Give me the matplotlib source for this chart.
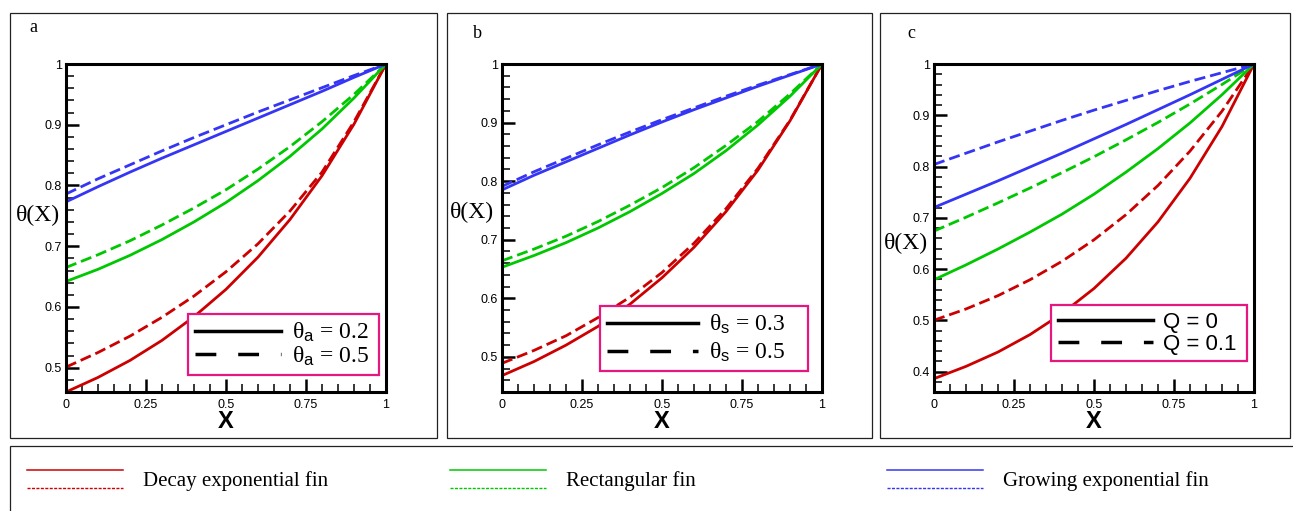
import matplotlib
matplotlib.use("Agg")
import matplotlib.pyplot as plt
from matplotlib.lines import Line2D
from matplotlib.patches import Rectangle
from matplotlib.legend_handler import HandlerBase
from matplotlib.ticker import MultipleLocator, FuncFormatter

# dimensionless position along the fin
x_pos = [0.0, 0.1, 0.2, 0.3, 0.4, 0.5, 0.6, 0.7, 0.8, 0.9, 1.0]

# panel a: theta_a = 0.2 (solid) / 0.5 (dashed)
a_decay_solid = [0.460, 0.484, 0.512, 0.545, 0.584, 0.629, 0.682, 0.744, 0.816, 0.901, 1.0]
a_decay_dash = [0.501, 0.525, 0.552, 0.583, 0.618, 0.658, 0.704, 0.758, 0.822, 0.905, 1.0]
a_rect_solid = [0.642, 0.662, 0.685, 0.711, 0.740, 0.772, 0.808, 0.848, 0.893, 0.944, 1.0]
a_rect_dash = [0.665, 0.686, 0.709, 0.735, 0.763, 0.793, 0.827, 0.864, 0.905, 0.950, 1.0]
a_grow_solid = [0.773, 0.798, 0.822, 0.845, 0.867, 0.889, 0.911, 0.933, 0.955, 0.978, 1.0]
a_grow_dash = [0.786, 0.811, 0.834, 0.857, 0.879, 0.900, 0.921, 0.941, 0.961, 0.981, 1.0]

# panel b: theta_s = 0.3 (solid) / 0.5 (dashed)
b_decay_solid = [0.468, 0.492, 0.520, 0.552, 0.590, 0.635, 0.687, 0.748, 0.819, 0.903, 1.0]
b_decay_dash = [0.489, 0.511, 0.536, 0.567, 0.602, 0.644, 0.694, 0.753, 0.822, 0.904, 1.0]
b_rect_solid = [0.653, 0.673, 0.695, 0.720, 0.748, 0.779, 0.813, 0.852, 0.896, 0.945, 1.0]
b_rect_dash = [0.664, 0.684, 0.706, 0.731, 0.759, 0.789, 0.823, 0.861, 0.902, 0.949, 1.0]
b_grow_solid = [0.785, 0.810, 0.833, 0.856, 0.879, 0.901, 0.922, 0.942, 0.962, 0.981, 1.0]
b_grow_dash = [0.791, 0.816, 0.839, 0.862, 0.884, 0.905, 0.925, 0.945, 0.964, 0.982, 1.0]

# panel c: Q = 0 (solid) / 0.1 (dashed)
c_decay_solid = [0.386, 0.410, 0.438, 0.472, 0.513, 0.562, 0.621, 0.692, 0.777, 0.878, 1.0]
c_decay_dash = [0.500, 0.522, 0.548, 0.579, 0.615, 0.657, 0.706, 0.763, 0.830, 0.908, 1.0]
c_rect_solid = [0.579, 0.608, 0.639, 0.672, 0.707, 0.746, 0.789, 0.835, 0.885, 0.940, 1.0]
c_rect_dash = [0.674, 0.701, 0.729, 0.758, 0.788, 0.819, 0.852, 0.886, 0.922, 0.960, 1.0]
c_grow_solid = [0.720, 0.746, 0.772, 0.799, 0.826, 0.854, 0.882, 0.911, 0.940, 0.970, 1.0]
c_grow_dash = [0.804, 0.826, 0.848, 0.869, 0.890, 0.910, 0.929, 0.948, 0.966, 0.983, 1.0]

fin_names = ["Decay exponential fin", "Rectangular fin", "Growing exponential fin"]
fin_colors = ["#cc0000", "#00c800", "#3535f5"]
x_ticks = [0, 0.25, 0.5, 0.75, 1]

panels = [
    dict(tag="a", left=66, ylim=(0.46, 1.0),
         curves=[(a_decay_solid, a_decay_dash), (a_rect_solid, a_rect_dash), (a_grow_solid, a_grow_dash)],
         labels=[r"θ$_{\mathsf{a}}$ = 0.2", r"θ$_{\mathsf{a}}$ = 0.5"],
         leg=(188, 314, 379), hlen=3.65, lspace=0.0, ylab=(38, 215), tagpos=(33, 28)),
    dict(tag="b", left=502, ylim=(0.44, 1.0),
         curves=[(b_decay_solid, b_decay_dash), (b_rect_solid, b_rect_dash), (b_grow_solid, b_grow_dash)],
         labels=[r"θ$_{\mathsf{s}}$ = 0.3", r"θ$_{\mathsf{s}}$ = 0.5"],
         leg=(600, 306, 808), hlen=3.85, lspace=0.2, ylab=(472, 212), tagpos=(477, 33)),
    dict(tag="c", left=934, ylim=(0.36, 1.0),
         curves=[(c_decay_solid, c_decay_dash), (c_rect_solid, c_rect_dash), (c_grow_solid, c_grow_dash)],
         labels=["Q = 0", "Q = 0.1"],
         leg=(1051, 305, 1247), hlen=4.3, lspace=0.05, ylab=(906, 243), tagpos=(911, 33)),
]

W, H = 1293, 511
plt.rcParams["mathtext.fontset"] = "custom"
plt.rcParams["mathtext.rm"] = "Liberation Serif"
plt.rcParams["mathtext.it"] = "Liberation Serif:italic"
plt.rcParams["mathtext.sf"] = "Liberation Sans"
fig = plt.figure(figsize=(W / 100, H / 100), dpi=100)

serif = ["Liberation Serif", "DejaVu Serif"]
sans = ["Liberation Sans", "DejaVu Sans"]

# outer frames around each panel and the shared legend
for x0, y0, x1, y1 in [(10, 13, 437, 438), (447, 13, 872, 438), (880, 13, 1290, 438), (10, 446, 1310, 530)]:
    fig.add_artist(Rectangle((x0 / W, 1 - y1 / H), (x1 - x0) / W, (y1 - y0) / H,
                             transform=fig.transFigure, fill=False, ec="#222222", lw=0.9))

ax_top, ax_bot, ax_w = 64, 392, 320
fmt = FuncFormatter(lambda v, p: f"{v:g}")

for p in panels:
    ax = fig.add_axes([p["left"] / W, 1 - ax_bot / H, ax_w / W, (ax_bot - ax_top) / H])
    for (solid, dash), col in zip(p["curves"], fin_colors):
        ax.plot(x_pos, solid, color=col, lw=2.0)
        ax.plot(x_pos, dash, color=col, lw=2.0, dashes=(4, 1.8))
    ax.set_xlim(0, 1)
    ax.set_ylim(*p["ylim"])
    ax.set_xticks(x_ticks)
    ax.xaxis.set_minor_locator(MultipleLocator(0.05))
    ax.yaxis.set_major_locator(MultipleLocator(0.1))
    ax.yaxis.set_minor_locator(MultipleLocator(0.02))
    ax.xaxis.set_major_formatter(fmt)
    ax.yaxis.set_major_formatter(fmt)
    ax.tick_params(which="both", direction="in", top=False, right=False)
    ax.tick_params(which="major", length=9.5, width=1.8)
    ax.tick_params(which="minor", length=5.5, width=1.1)
    ax.tick_params(axis="x", pad=5)
    ax.tick_params(axis="y", pad=3)
    for lab in ax.get_xticklabels() + ax.get_yticklabels():
        lab.set_fontfamily(sans)
        lab.set_fontsize(9)
    for s in ax.spines.values():
        s.set_linewidth(2.2)

    ax.set_xlabel("X", fontfamily=sans, fontweight="bold", fontsize=17)
    ax.xaxis.set_label_coords(0.5, -(421 - ax_bot) / (ax_bot - ax_top))
    ax.xaxis.label.set_va("center")
    ax.set_ylabel("θ(X)", fontfamily=serif, fontsize=17, rotation=0, ha="center", va="center")
    ax.yaxis.set_label_coords((p["ylab"][0] - p["left"]) / ax_w,
                              (ax_bot - p["ylab"][1]) / (ax_bot - ax_top))

    fig.text(p["tagpos"][0] / W, 1 - p["tagpos"][1] / H, p["tag"], fontfamily=serif,
             fontsize=13, ha="center", va="center")

    lx0, ltop, lx1 = p["leg"]
    is_c = p["tag"] == "c"
    handles = [Line2D([], [], color="k", lw=2.5),
               Line2D([], [], color="k", lw=2.5, dashes=(6, 6.3))]
    leg = ax.legend(handles, p["labels"], loc="upper left",
                    bbox_to_anchor=((lx0 - p["left"]) / ax_w, (ax_bot - ltop) / (ax_bot - ax_top),
                                    (lx1 - lx0) / ax_w, 0),
                    mode="expand", borderaxespad=0, borderpad=0.3, labelspacing=p["lspace"],
                    handlelength=p["hlen"], handletextpad=0.45,
                    fancybox=False, framealpha=1, edgecolor="#e6177f",
                    prop=dict(family=sans if is_c else serif, size=16 if is_c else 17))
    leg.get_frame().set_linewidth(1.6)
    leg.set_zorder(10)


class TwoLines(HandlerBase):
    # solid line above, fine dashed line below, as in the shared legend
    def create_artists(self, legend, orig, xd, yd, width, height, fontsize, trans):
        c = orig.get_color()
        yc = (height - yd) / 2
        off = 0.43 * fontsize
        top = Line2D([-xd, -xd + width], [yc + off] * 2, color=c, lw=1.1, transform=trans)
        bot = Line2D([-xd, -xd + width], [yc - off] * 2, color=c, lw=1.0,
                     dashes=(2.2, 1.0), transform=trans)
        return [top, bot]


for name, col, xstart in zip(fin_names, fin_colors, [27, 450, 887]):
    h = Line2D([], [], color=col)
    fig.legend([h], [name], loc="center left", bbox_to_anchor=(xstart / W, 1 - 481 / H),
               frameon=False, borderpad=0, borderaxespad=0, handlelength=4.6,
               handletextpad=0.95, handler_map={Line2D: TwoLines()},
               prop=dict(family=serif, size=15))

fig.savefig("out.png", dpi=100)
